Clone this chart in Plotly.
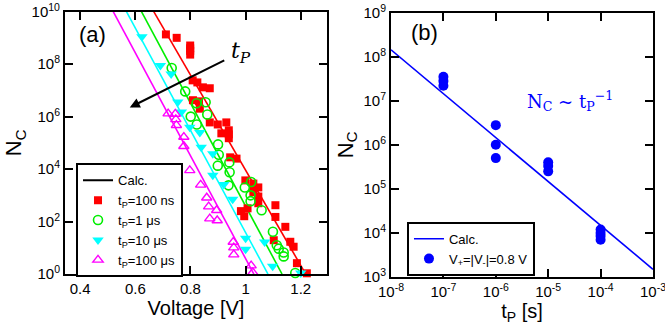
import plotly.graph_objects as go

# ---------------- Panel (a) data ----------------
red_v = [0.711, 0.750, 0.799, 0.799, 0.799, 0.799, 0.808, 0.825, 0.845, 0.870, 0.809, 0.831, 0.834,
         0.870, 0.899, 0.930, 0.939, 0.939, 0.939, 0.912, 0.944, 0.967, 0.999, 1.028, 1.028, 1.028,
         1.046, 1.046, 1.046, 0.983, 0.995, 1.007, 1.108, 1.108, 1.144, 1.102, 1.162, 1.174, 1.186, 1.222]
red_n = [1.35e9, 1.0e9, 5.1e8, 4.0e8, 3.2e8, 2.3e8, 2.4e7, 2.0e7, 1.3e7, 1.2e7, 4.2e6, 3.8e6, 2.0e6,
         6.0e5, 5.0e5, 6.0e5, 3.0e5, 2.1e5, 1.5e5, 2.3e5, 2.8e4, 2.5e4, 3.7e3, 2.8e3, 1.9e3, 1.3e3,
         2.0e3, 9.0e2, 5.0e2, 2.5e2, 1.6e2, 3.2e2, 4.2e2, 1.5e2, 63, 19.5, 17, 11, 2.6, 1.07]

green_v = [0.732, 0.781, 0.822, 0.855, 0.801, 0.823, 0.861, 0.900, 0.9025, 0.899, 0.941, 0.942,
           0.938, 0.997, 1.020, 1.018, 1.018, 1.058, 1.099, 1.113, 1.120, 1.138, 1.138, 1.180]
green_n = [7.1e7, 9.1e6, 3.2e6, 3.5e6, 1.0e6, 5.0e5, 1.2e6, 8.7e4, 3.5e4, 1.35e4, 1.8e4, 7.6e3,
           2.4e3, 2.0e3, 3.2e3, 1.0e3, 6.0e2, 2.7e2, 41, 12.6, 9.3, 6.6, 4.7, 1.1]

cyan_v = [0.624, 0.691, 0.730, 0.754, 0.767, 0.7975, 0.834, 0.839, 0.881, 0.881, 0.921, 0.953,
          1.000, 1.000, 1.069, 1.098, 1.200]
cyan_n = [1.1e9, 8.9e7, 4.2e7, 3.6e6, 1.5e6, 3.9e5, 2.5e5, 6.8e4, 3.8e4, 5.8e3, 2.6e3, 7.1e2,
          23, 8.9, 16.6, 2.0, 1.1]

mag_v = [0.719, 0.745, 0.747, 0.749, 0.776, 0.776, 0.7975, 0.837, 0.859, 0.866, 0.895, 0.870,
         0.897, 0.955, 0.957, 0.957, 1.020, 1.026]
mag_n = [1.3e6, 1.26e6, 7.8e5, 4.7e5, 1.66e5, 7.4e4, 8.9e3, 2.5e3, 8.1e2, 3.7e2, 2.7e2, 1.3e2,
         1.1e2, 16.6, 10.2, 5.5, 2.1, 1.15]

# calculated lines (endpoints)
calc_red_v, calc_red_n = [0.667, 1.218], [1e10, 1e0]
calc_green_v, calc_green_n = [0.6225, 1.132], [1e10, 1e0]
calc_cyan_v, calc_cyan_n = [0.568, 1.081], [1e10, 1e0]
calc_mag_v, calc_mag_n = [0.520, 1.030], [1e10, 1e0]

left_ytickvals = [1e0, 1e2, 1e4, 1e6, 1e8, 1e10]
left_yticktext = ["10<sup>0</sup>", "10<sup>2</sup>", "10<sup>4</sup>", "10<sup>6</sup>",
                  "10<sup>8</sup>", "10<sup>10</sup>"]

# ---------------- Panel (b) data ----------------
tp_pts = [1e-7, 1e-7, 1e-7, 1e-6, 1e-6, 1e-6, 1e-5, 1e-5, 1e-5, 1e-4, 1e-4, 1e-4, 1e-4]
nc_pts = [3.5e7, 2.8e7, 2.2e7, 2.8e6, 1.0e6, 5.0e5, 4.0e5, 3.3e5, 2.5e5, 1.2e4, 1.0e4, 8.5e3, 7.0e3]
fit_t = [1e-8, 1e-3]
fit_n = [1.43e8, 1.5e3]

right_xtickvals = [1e-8, 1e-7, 1e-6, 1e-5, 1e-4, 1e-3]
right_xticktext = ["10<sup>-8</sup>", "10<sup>-7</sup>", "10<sup>-6</sup>", "10<sup>-5</sup>",
                   "10<sup>-4</sup>", "10<sup>-3</sup>"]
right_ytickvals = [1e3, 1e4, 1e5, 1e6, 1e7, 1e8, 1e9]
right_yticktext = ["10<sup>3</sup>", "10<sup>4</sup>", "10<sup>5</sup>", "10<sup>6</sup>",
                   "10<sup>7</sup>", "10<sup>8</sup>", "10<sup>9</sup>"]

RED, GREEN, CYAN, MAG, BLUE = "#ff0000", "#00ee00", "#00ffff", "#ff00ff", "#0000ff"
FONT = "Liberation Sans, Arial, sans-serif"

fig = go.Figure()

# legend-only black "Calc." line
fig.add_trace(go.Scatter(x=[None], y=[None], mode="lines", name="Calc.",
                         line=dict(color="black", width=2), xaxis="x", yaxis="y", legend="legend"))
for vv, nn, c in [(calc_red_v, calc_red_n, RED), (calc_green_v, calc_green_n, GREEN),
                  (calc_cyan_v, calc_cyan_n, CYAN), (calc_mag_v, calc_mag_n, MAG)]:
    fig.add_trace(go.Scatter(x=vv, y=nn, mode="lines", line=dict(color=c, width=1.6),
                             showlegend=False, xaxis="x", yaxis="y"))

fig.add_trace(go.Scatter(x=red_v, y=red_n, mode="markers", name="t<sub>P</sub>=100 ns",
                         marker=dict(symbol="square", size=8, color=RED),
                         cliponaxis=False, xaxis="x", yaxis="y", legend="legend"))
fig.add_trace(go.Scatter(x=green_v, y=green_n, mode="markers", name="t<sub>P</sub>=1 μs",
                         marker=dict(symbol="circle-open", size=9, color=GREEN, line=dict(width=1.6)),
                         cliponaxis=False, xaxis="x", yaxis="y", legend="legend"))
fig.add_trace(go.Scatter(x=cyan_v, y=cyan_n, mode="markers", name="t<sub>P</sub>=10 μs",
                         marker=dict(symbol="triangle-down", size=10, color=CYAN),
                         cliponaxis=False, xaxis="x", yaxis="y", legend="legend"))
fig.add_trace(go.Scatter(x=mag_v, y=mag_n, mode="markers", name="t<sub>P</sub>=100 μs",
                         marker=dict(symbol="triangle-up-open", size=9, color=MAG, line=dict(width=1.4)),
                         cliponaxis=False, xaxis="x", yaxis="y", legend="legend"))

# panel b
fig.add_trace(go.Scatter(x=fit_t, y=fit_n, mode="lines", name="Calc.",
                         line=dict(color=BLUE, width=1.6), xaxis="x2", yaxis="y2", legend="legend2"))
fig.add_trace(go.Scatter(x=tp_pts, y=nc_pts, mode="markers",
                         name="V<sub>+</sub>=|V<sub>-</sub>|=0.8 V",
                         marker=dict(symbol="circle", size=10, color=BLUE),
                         cliponaxis=False, xaxis="x2", yaxis="y2", legend="legend2"))

axis_common = dict(showline=True, linecolor="black", linewidth=2, mirror="ticks", ticks="inside",
                   ticklen=8, tickwidth=2, tickcolor="black", showgrid=False, zeroline=False,
                   automargin=False, ticklabeloverflow="allow",
                   tickfont=dict(family=FONT, size=15, color="black"))

fig.update_layout(
    template="none",
    width=665, height=331, margin=dict(l=0, r=0, t=0, b=0, pad=0),
    paper_bgcolor="white", plot_bgcolor="white",
    font=dict(family=FONT, color="black"),
    xaxis=dict(domain=[0.0977, 0.4917], range=[0.345, 1.295], tick0=0.4, dtick=0.2,
               title=dict(text="Voltage [V]", font=dict(size=20), standoff=2),
               anchor="y", **axis_common),
    yaxis=dict(domain=[0.172, 0.965], type="log", range=[0, 10], tickvals=left_ytickvals,
               ticktext=left_yticktext, title=dict(text="N<sub>C</sub>", font=dict(size=22), standoff=4),
               anchor="x", **axis_common),
    xaxis2=dict(domain=[0.588, 0.982], type="log", range=[-8, -2.999], tickvals=right_xtickvals,
                ticktext=right_xticktext, title=dict(text="t<sub>P</sub> [s]", font=dict(size=20), standoff=2),
                anchor="y2", **axis_common),
    yaxis2=dict(domain=[0.163, 0.962], type="log", range=[3, 9.001], tickvals=right_ytickvals,
                ticktext=right_yticktext, title=dict(text="N<sub>C</sub>", font=dict(size=22), standoff=4),
                anchor="x2", **axis_common),
    legend=dict(x=0.1143, y=0.5066, xanchor="left", yanchor="top", bgcolor="white",
                bordercolor="black", borderwidth=2, font=dict(size=13, family=FONT),
                tracegroupgap=0, itemwidth=30),
    legend2=dict(x=0.612, y=0.33, xanchor="left", yanchor="top", bgcolor="white",
                 bordercolor="black", borderwidth=2, font=dict(size=13, family=FONT),
                 tracegroupgap=0, itemwidth=30),
)

fig.add_annotation(text="(a)", xref="paper", yref="paper", x=93 / 665, y=1 - 34 / 331,
                   xanchor="center", yanchor="middle", showarrow=False, font=dict(size=22, family=FONT))
fig.add_annotation(text="(b)", xref="paper", yref="paper", x=424 / 665, y=1 - 33 / 331,
                   xanchor="center", yanchor="middle", showarrow=False, font=dict(size=22, family=FONT))
fig.add_annotation(text="<i>t<sub>P</sub></i>", xref="paper", yref="paper", x=241 / 665, y=1 - 52 / 331,
                   xanchor="center", yanchor="middle", showarrow=False,
                   font=dict(size=22, family="DejaVu Serif, serif"))
fig.add_annotation(text="N<sub>C</sub> ~ t<sub>P</sub><sup>−1</sup>", xref="paper", yref="paper",
                   x=525 / 665, y=1 - 101 / 331, xanchor="left", yanchor="middle", showarrow=False,
                   font=dict(size=18, family="DejaVu Serif, serif", color=BLUE))
# arrow in panel (a)
fig.add_annotation(x=0.580, y=6.35, ax=0.928, ay=8.17, xref="x", yref="y", axref="x", ayref="y",
                   text="", showarrow=True, arrowhead=2, arrowsize=1, arrowwidth=2, arrowcolor="black")

fig.write_html("out.html")
